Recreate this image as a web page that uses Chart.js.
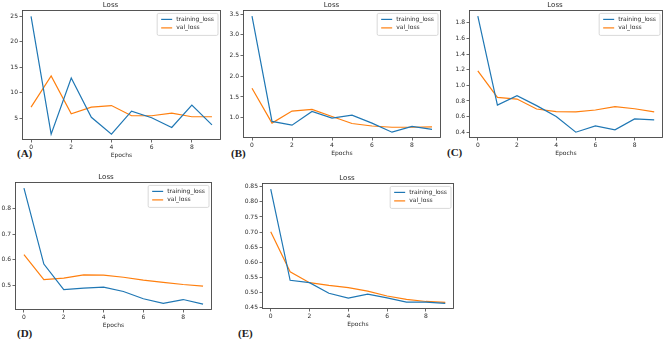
<!DOCTYPE html>
<html>
<head>
<meta charset="utf-8">
<script src="https://cdn.jsdelivr.net/npm/chart.js@4"></script>
<style>
  html, body { margin: 0; padding: 0; background: #fff; }
  body { width: 669px; height: 340px; position: relative; overflow: hidden; }
  canvas { position: absolute; }
  .tag { position: absolute; font: bold 11px "Liberation Serif", serif; color: #222; line-height: 11px; }
</style>
</head>
<body>
<div class="tag" style="left:17px;top:148px">(A)</div>
<div class="tag" style="left:231px;top:148px">(B)</div>
<div class="tag" style="left:447px;top:147px">(C)</div>
<div class="tag" style="left:17px;top:328px">(D)</div>
<div class="tag" style="left:238px;top:328px">(E)</div>
<script>
const epochs = [0, 1, 2, 3, 4, 5, 6, 7, 8, 9];
const xTicks = [0, 2, 4, 6, 8];

const trainA = [25.0, 1.9, 12.9, 5.2, 1.9, 6.4, 5.1, 3.2, 7.6, 3.7];
const valA   = [7.2, 13.3, 5.9, 7.2, 7.5, 5.5, 5.5, 6.0, 5.3, 5.3];
const ticksA = [5, 10, 15, 20, 25];

const trainB = [3.45, 0.91, 0.82, 1.15, 0.99, 1.06, 0.87, 0.65, 0.79, 0.72];
const valB   = [1.71, 0.87, 1.16, 1.20, 1.03, 0.86, 0.80, 0.77, 0.77, 0.78];
const ticksB = [1.0, 1.5, 2.0, 2.5, 3.0, 3.5];

const trainC = [1.885, 0.748, 0.867, 0.74, 0.60, 0.40, 0.48, 0.43, 0.57, 0.557];
const valC   = [1.185, 0.845, 0.824, 0.697, 0.663, 0.659, 0.684, 0.727, 0.70, 0.66];
const ticksC = [0.4, 0.6, 0.8, 1.0, 1.2, 1.4, 1.6, 1.8];

const trainD = [0.877, 0.584, 0.485, 0.491, 0.495, 0.478, 0.45, 0.432, 0.447, 0.429];
const valD   = [0.62, 0.524, 0.53, 0.542, 0.541, 0.533, 0.522, 0.513, 0.505, 0.499];
const ticksD = [0.5, 0.6, 0.7, 0.8];

const trainE = [0.842, 0.541, 0.533, 0.498, 0.482, 0.495, 0.483, 0.469, 0.469, 0.465];
const valE   = [0.701, 0.569, 0.533, 0.524, 0.517, 0.505, 0.489, 0.478, 0.471, 0.468];
const ticksE = [0.45, 0.50, 0.55, 0.60, 0.65, 0.70, 0.75, 0.80, 0.85];

const FONT = '"DejaVu Sans", sans-serif';
const INK = '#2a2a2a';
const SPINE = '#444';
const BLUE = '#1f77b4';
const ORANGE = '#ff7f0e';
const TITLE_H = 9.4;
const XAXIS_H = 20;

// axes box (left, right, top, bottom) for each panel, and width kept for y tick labels
const panels = [
  { train: trainA, val: valA, yt: ticksA, dec: 0, box: [22, 221, 10, 140], yW: 22 },
  { train: trainB, val: valB, yt: ticksB, dec: 1, box: [243, 441, 10, 138], yW: 21 },
  { train: trainC, val: valC, yt: ticksC, dec: 1, box: [469, 663, 10, 138], yW: 22 },
  { train: trainD, val: valD, yt: ticksD, dec: 1, box: [15, 212, 182, 310], yW: 15 },
  { train: trainE, val: valE, yt: ticksE, dec: 2, box: [262, 454, 183, 309], yW: 22 }
];

// full frame round the plot area, like matplotlib spines
const frame = {
  id: 'frame',
  afterDraw(chart) {
    const { ctx, chartArea: a } = chart;
    ctx.save();
    ctx.strokeStyle = SPINE;
    ctx.lineWidth = 0.9;
    ctx.strokeRect(Math.round(a.left) + 0.5, Math.round(a.top) + 0.5,
      Math.round(a.right - a.left) - 1, Math.round(a.bottom - a.top) - 1);
    ctx.restore();
  }
};

// legend drawn inside the upper right corner
const insideLegend = {
  id: 'insideLegend',
  afterDraw(chart) {
    const { ctx, chartArea: a } = chart;
    const sets = chart.data.datasets;
    ctx.save();
    ctx.font = '6px ' + FONT;
    const tw = Math.max(...sets.map(d => ctx.measureText(d.label).width));
    const w = 4 + 11 + 4 + tw + 4;
    const h = 3 + sets.length * 8.5 + 2;
    const x = a.right - 3 - w, y = a.top + 3;
    ctx.fillStyle = 'rgba(255,255,255,0.85)';
    ctx.strokeStyle = '#cfcfcf';
    ctx.lineWidth = 0.8;
    ctx.beginPath();
    ctx.roundRect(x, y, w, h, 1.5);
    ctx.fill();
    ctx.stroke();
    sets.forEach((d, i) => {
      const cy = y + 6 + i * 8.5;
      ctx.strokeStyle = d.borderColor;
      ctx.lineWidth = 1.2;
      ctx.beginPath();
      ctx.moveTo(x + 4, cy);
      ctx.lineTo(x + 15, cy);
      ctx.stroke();
      ctx.fillStyle = INK;
      ctx.textBaseline = 'middle';
      ctx.fillText(d.label, x + 19, cy);
    });
    ctx.restore();
  }
};

function pad(values) {
  const lo = Math.min(...values), hi = Math.max(...values);
  const m = (hi - lo) * 0.05;
  return [lo - m, hi + m];
}

panels.forEach(p => {
  const [L, R, T, B] = p.box;
  const cv = document.createElement('canvas');
  const left = L - p.yW, top = T - TITLE_H;
  const w = R - left + 3, h = B - top + XAXIS_H;
  cv.style.left = left + 'px';
  cv.style.top = top + 'px';
  cv.width = w; cv.height = h;
  cv.style.width = w + 'px'; cv.style.height = h + 'px';
  document.body.appendChild(cv);

  const [yMin, yMax] = pad(p.train.concat(p.val));
  const [xMin, xMax] = pad(epochs);

  new Chart(cv, {
    type: 'line',
    data: {
      datasets: [
        { label: 'training_loss', data: epochs.map((e, i) => ({ x: e, y: p.train[i] })),
          borderColor: BLUE, borderWidth: 1.2, pointRadius: 0, tension: 0 },
        { label: 'val_loss', data: epochs.map((e, i) => ({ x: e, y: p.val[i] })),
          borderColor: ORANGE, borderWidth: 1.2, pointRadius: 0, tension: 0 }
      ]
    },
    options: {
      responsive: false,
      animation: false,
      layout: { padding: { top: 0, right: 3, bottom: 0, left: 0 } },
      plugins: {
        legend: { display: false },
        tooltip: { enabled: false },
        title: {
          display: true, text: 'Loss', color: INK,
          font: { family: FONT, size: 7, weight: 'normal', lineHeight: 1.2 },
          padding: { top: 0, bottom: 1 }
        }
      },
      scales: {
        x: {
          type: 'linear', min: xMin, max: xMax,
          afterBuildTicks: s => { s.ticks = xTicks.map(v => ({ value: v })); },
          afterFit: s => { s.height = XAXIS_H; },
          grid: { drawOnChartArea: false, drawTicks: true, tickLength: 2.5, color: SPINE, lineWidth: 0.8 },
          border: { display: false },
          ticks: { color: INK, font: { family: FONT, size: 6 }, padding: 1, maxRotation: 0 },
          title: { display: true, text: 'Epochs', color: INK, font: { family: FONT, size: 6 }, padding: { top: 0, bottom: 1 } }
        },
        y: {
          min: yMin, max: yMax,
          afterBuildTicks: s => { s.ticks = p.yt.map(v => ({ value: v })); },
          afterFit: s => { s.width = p.yW; },
          grid: { drawOnChartArea: false, drawTicks: true, tickLength: 2.5, color: SPINE, lineWidth: 0.8 },
          border: { display: false },
          ticks: { color: INK, font: { family: FONT, size: 6 }, padding: 1.5, callback: v => v.toFixed(p.dec) }
        }
      }
    },
    plugins: [frame, insideLegend]
  });
});
</script>
</body>
</html>
